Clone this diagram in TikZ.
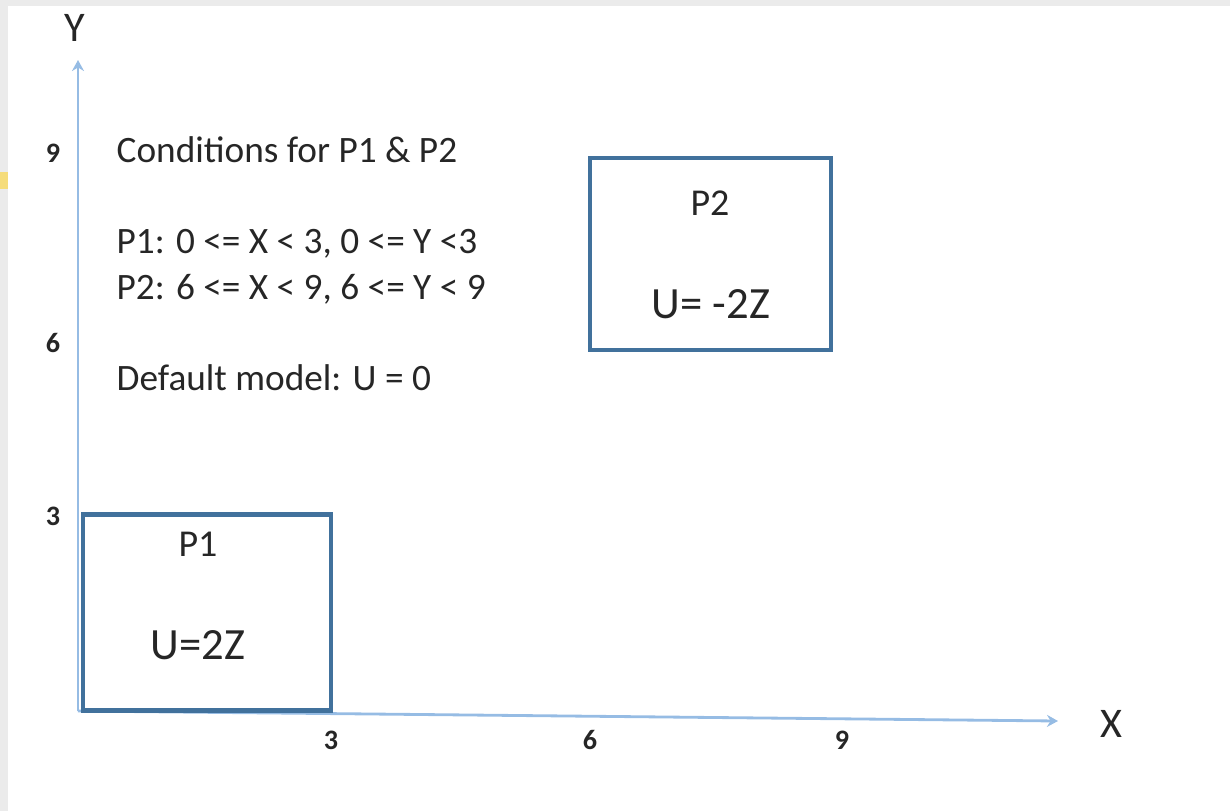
\documentclass[tikz,border=0pt]{standalone}
\usepackage{fontspec}
\setmainfont{Carlito}
\usetikzlibrary{arrows.meta, positioning}
\definecolor{axisblue}{RGB}{150,188,228}
\definecolor{boxblue}{RGB}{65,113,156}
\definecolor{stripgray}{RGB}{235,235,235}
\definecolor{stripyellow}{RGB}{245,220,122}

\begin{document}
\begin{tikzpicture}[x=0.01cm, y=-0.01cm, text=black!85,
   axis/.style={draw=axisblue, line width=0.8pt, -{Stealth[length=1.1mm, width=1.2mm]}},
   region/.style={draw=boxblue, line width=1.2pt, inner sep=0pt},
   tick/.style={font=\fontsize{8}{9}\selectfont\bfseries, inner sep=0pt},
   axislabel/.style={font=\fontsize{12}{14}\selectfont, inner sep=0pt, anchor=base},
   cond/.style={font=\fontsize{10.6}{12}\selectfont, inner sep=0pt, anchor=base west},
   plabel/.style={font=\fontsize{10.8}{12}\selectfont, inner sep=0pt, anchor=base},
   ulabel/.style={font=\fontsize{12.7}{14}\selectfont, inner sep=0pt, anchor=base}]
  \useasboundingbox (0,0) rectangle (1230,811);
  % screenshot edges
  \fill[stripgray] (0,0) rectangle (8,811);
  \fill[stripgray] (8,0) rectangle (1230,6);
  \fill[stripyellow] (0,172) rectangle (8,189);

  % axes
  \coordinate (origin) at (78,711);
  \coordinate (yend) at (78,60);
  \coordinate (xend) at (1058,721);
  \draw[axis] (origin) -- (yend);
  \draw[axis] (origin) -- (xend);
  \node[axislabel] (ylab) at (75,41) {Y};
  \node[axislabel] (xlab) at (1111,737) {X};
  \foreach \v/\py in {9/153, 6/343, 3/516}
    \node[tick] (ytick\v) at (53,\py) {\v};
  \foreach \v/\px in {3/331, 6/590, 9/842}
    \node[tick] (xtick\v) at (\px,740) {\v};

  % regions
  \node[region, minimum width=2.48cm, minimum height=1.96cm] (p1box) at (207,612.5) {};
  \node[plabel] (p1name) at (198,556) {P1};
  \node[ulabel] (p1model) at (198,659) {U=2Z};

  \node[region, minimum width=2.41cm, minimum height=1.925cm] (p2box) at (710.5,254) {};
  \node[plabel] (p2name) at (710,215) {P2};
  \node[ulabel] (p2model) at (711,318) {U= -2Z};

  % conditions
  \node[cond] (title) at (116,162) {Conditions for P1 \& P2};
  \node[cond] (cond1) at (116,253) {P1: 0 <= X < 3, 0 <= Y <3};
  \node[cond] (cond2) at (116,299) {P2: 6 <= X < 9, 6 <= Y < 9};
  \node[cond] (default) at (116,390) {Default model: U = 0};
\end{tikzpicture}
\end{document}
